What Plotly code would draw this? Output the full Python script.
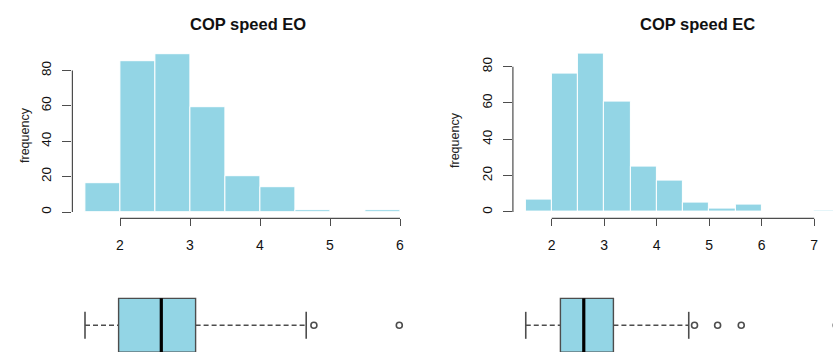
import plotly.graph_objects as go

# ---- data -------------------------------------------------------------
bin_width = 0.5
eo_edges_start = 1.5
eo_counts = [16, 85, 89, 59, 20, 14, 1, 0, 1]
ec_edges_start = 1.5
ec_counts = [7, 76, 87, 61, 25, 17, 5, 2, 4, 0, 0, 1]

eo_xticks = [2, 3, 4, 5, 6]
ec_xticks = [2, 3, 4, 5, 6, 7]
yticks = [0, 20, 40, 60, 80]

# five-number summaries for the boxplots
eo_box = dict(lo=1.50, q1=1.98, med=2.59, q3=3.08, hi=4.66)
eo_out = [4.77, 5.99]
ec_box = dict(lo=1.505, q1=2.165, med=2.61, q3=3.175, hi=4.61)
ec_out = [4.72, 5.16, 5.61, 7.42]

titles = ["COP speed EO", "COP speed EC"]

# ---- styling ----------------------------------------------------------
W, H = 833, 352
FILL = "#93D5E5"
AXC = "#4d4d4d"
FONT = "Liberation Sans, Arial, sans-serif"


def px_x(p):
    return p / W


def px_y(p):
    return 1 - p / H


fig = go.Figure()


def add_hist(counts, start, xa, ya):
    centers = [start + bin_width * (i + 0.5) for i in range(len(counts))]
    fig.add_trace(go.Bar(
        x=centers, y=counts, width=bin_width,
        marker=dict(color=FILL, line=dict(color="white", width=1)),
        xaxis=xa, yaxis=ya, showlegend=False, hoverinfo="x+y",
    ))


def add_box(b, outs, xa, ya):
    common = dict(xaxis=xa, yaxis=ya, showlegend=False, hoverinfo="skip",
                  mode="lines", cliponaxis=True)
    # dashed whiskers
    fig.add_trace(go.Scatter(x=[b["lo"], b["q1"]], y=[1, 1],
                             line=dict(color=AXC, width=1.5, dash="5px,3px"), **common))
    fig.add_trace(go.Scatter(x=[b["q3"], b["hi"]], y=[1, 1],
                             line=dict(color=AXC, width=1.5, dash="5px,3px"), **common))
    # staples
    for v in (b["lo"], b["hi"]):
        fig.add_trace(go.Scatter(x=[v, v], y=[0.8, 1.2],
                                 line=dict(color=AXC, width=1.6), **common))
    # box
    fig.add_trace(go.Scatter(
        x=[b["q1"], b["q3"], b["q3"], b["q1"], b["q1"]],
        y=[0.6, 0.6, 1.4, 1.4, 0.6], fill="toself", fillcolor=FILL,
        line=dict(color=AXC, width=1.4), **common))
    # median
    fig.add_trace(go.Scatter(x=[b["med"], b["med"]], y=[0.6, 1.4],
                             line=dict(color="black", width=3.2), **common))
    # outliers
    fig.add_trace(go.Scatter(
        x=outs, y=[1] * len(outs), mode="markers", xaxis=xa, yaxis=ya,
        marker=dict(symbol="circle-open", size=6, color=AXC, line=dict(width=1.6)),
        showlegend=False, hoverinfo="x", cliponaxis=True))


add_hist(eo_counts, eo_edges_start, "x", "y")
add_hist(ec_counts, ec_edges_start, "x2", "y2")
add_box(eo_box, eo_out, "x3", "y3")
add_box(ec_box, ec_out, "x4", "y4")

xtickfont = dict(family=FONT, size=14, color="#111")
ytickfont = dict(family=FONT, size=13.5, color="#111")
xhist = dict(showgrid=False, zeroline=False, showline=False, ticks="outside",
             ticklen=7, tickwidth=1, tickcolor=AXC, tickfont=xtickfont,
             ticklabelstandoff=7)
yhist = dict(showgrid=False, zeroline=False, showline=False, ticks="outside",
             ticklen=9, tickwidth=1, tickcolor=AXC, tickfont=ytickfont,
             tickangle=-90, tickvals=yticks, ticklabelstandoff=6)
blank = dict(showgrid=False, zeroline=False, showline=False,
             showticklabels=False, ticks="")

L_dom = [px_x(72.4), px_x(412.6)]
R_dom = [px_x(512.9), 1.0]
L_range = [1.32, 6.18]
R_range = [1.26, 7.358]

fig.update_layout(
    width=W, height=H, margin=dict(l=0, r=0, t=0, b=0),
    paper_bgcolor="white", plot_bgcolor="white", bargap=0,
    font=dict(family=FONT, color="#111"),
    xaxis=dict(domain=L_dom, range=L_range, tickvals=eo_xticks, anchor="y", **xhist),
    yaxis=dict(domain=[px_y(218.3), px_y(48.2)], range=[-3.56, 92.56], anchor="x", **yhist),
    xaxis2=dict(domain=R_dom, range=R_range, tickvals=ec_xticks, anchor="y2", **xhist),
    yaxis2=dict(domain=[px_y(218.3), px_y(47.6)], range=[-3.48, 90.48], anchor="x2", **yhist),
    xaxis3=dict(domain=L_dom, range=L_range, anchor="y3", **blank),
    yaxis3=dict(domain=[0, px_y(288.9)], range=[0.6044, 1.54], anchor="x3", **blank),
    xaxis4=dict(domain=R_dom, range=R_range, anchor="y4", **blank),
    yaxis4=dict(domain=[0, px_y(288.9)], range=[0.6044, 1.54], anchor="x4", **blank),
)

# R-style axis lines spanning only the tick range
for xa, ya, ticks in (("x", "y", eo_xticks), ("x2", "y2", ec_xticks)):
    fig.add_shape(type="line", xref=xa, yref=f"{ya} domain",
                  x0=ticks[0], x1=ticks[-1], y0=0, y1=0,
                  line=dict(color=AXC, width=1.2))
    fig.add_shape(type="line", xref=f"{xa} domain", yref=ya,
                  x0=0, x1=0, y0=yticks[0], y1=yticks[-1],
                  line=dict(color=AXC, width=1.2))

# titles and axis labels
for t, cx in zip(titles, (248, 697.7)):
    fig.add_annotation(text=f"<b>{t}</b>", x=px_x(cx), y=px_y(23.5),
                       xref="paper", yref="paper", showarrow=False,
                       xanchor="center", yanchor="middle",
                       font=dict(family=FONT, size=16.5, color="#111"))
for cx, cy in ((25, 135), (455, 140)):
    fig.add_annotation(text="frequency", x=px_x(cx), y=px_y(cy),
                       xref="paper", yref="paper", showarrow=False, textangle=-90,
                       xanchor="center", yanchor="middle",
                       font=dict(family=FONT, size=12.5, color="#222"))

fig.write_html("out.html")
